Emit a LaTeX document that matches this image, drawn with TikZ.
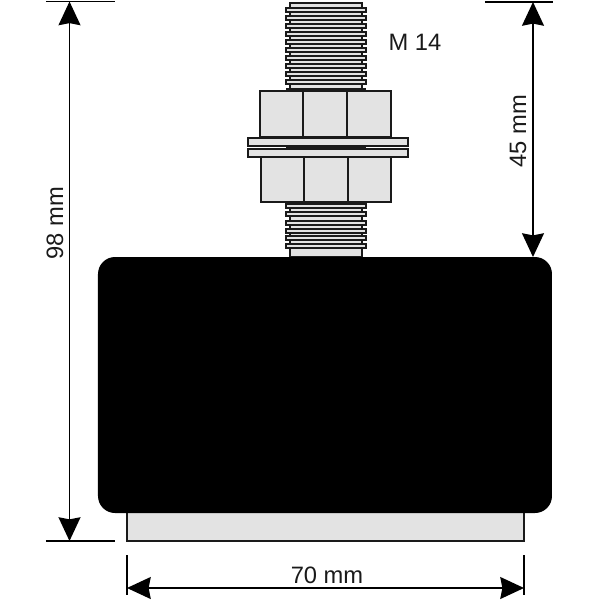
\documentclass[tikz,border=0pt]{standalone}
\usepackage{fontspec}
\setmainfont{Liberation Sans}
\usetikzlibrary{arrows.meta}
\definecolor{partgrey}{HTML}{E3E3E3}
\definecolor{ink}{HTML}{1A1A1A}
\tikzset{
  part/.style={draw=ink,fill=partgrey,line width=1.25pt},
  thin part/.style={draw=ink,fill=partgrey,line width=1.1pt},
  extline/.style={draw=black,line width=0.85pt},
  dimline/.style={draw=black,line width=0.85pt,{Stealth[length=13.5pt,width=12.5pt,inset=1.2pt]}-{Stealth[length=13.5pt,width=12.5pt,inset=1.2pt]}},
  dimtext/.style={font=\fontsize{13.5pt}{15pt}\selectfont,text=ink,inner sep=0pt}
}
\begin{document}
\begin{tikzpicture}[x=0.02cm,y=-0.02cm]
\useasboundingbox (0,0) rectangle (600,600);
% bolt core
\fill[part] (290,3) rectangle (362,91);
\fill[part] (290,202) rectangle (362,257);
% thread rows
\foreach \y in {10,18,26,34,42,50,58,66,74,82}
  \fill[thin part] (286,\y-2.3) rectangle (366,\y+2.3);
\fill[ink] (286,88) rectangle (366,91);
\foreach \y in {206,214,223,231,238,246}
  \fill[thin part] (286,\y-2.3) rectangle (366,\y+2.3);
% upper nut
\fill[part] (260,91) rectangle (391,137);
\draw[part] (303,91) -- (303,137) (347,91) -- (347,137);
% washers and spacer
\fill[ink] (286,146) rectangle (366,149);
\fill[part] (248,138) rectangle (408,146);
\fill[part] (248,149) rectangle (408,157);
% lower nut
\fill[part] (261,157) rectangle (391,202);
\draw[part] (304,157) -- (304,202) (348,157) -- (348,202);
% base plate
\fill[thin part] (127,505) rectangle (524,541);
% rubber body
\fill[black,rounded corners=0.34cm] (98,257) rectangle (552,513);
% extension lines
\coordinate (lt1) at (46,1.5); \coordinate (lt2) at (115,1.5);
\coordinate (lb1) at (46,541); \coordinate (lb2) at (115,541);
\coordinate (rt1) at (485,2); \coordinate (rt2) at (553,2);
\coordinate (bl1) at (127,555); \coordinate (bl2) at (127,595);
\coordinate (br1) at (524,555); \coordinate (br2) at (524,595);
\draw[extline] (lt1) -- (lt2);
\draw[extline] (lb1) -- (lb2);
\draw[extline] (rt1) -- (rt2);
\draw[extline] (bl1) -- (bl2);
\draw[extline] (br1) -- (br2);
% dimension lines
\coordinate (d98a) at (69.5,1.5); \coordinate (d98b) at (69.5,541);
\coordinate (d45a) at (533,2); \coordinate (d45b) at (533,257);
\coordinate (d70a) at (127,588); \coordinate (d70b) at (524,588);
\draw[dimline] (d98a) -- (d98b);
\draw[dimline] (d45a) -- (d45b);
\draw[dimline] (d70a) -- (d70b);
% labels
\node[dimtext,rotate=90] (t98) at (55,223) {98 mm};
\node[dimtext,rotate=90] (t45) at (518,131) {45 mm};
\node[dimtext] (t70) at (327,575) {70 mm};
\node[dimtext] (tm14) at (415,42) {M 14};
\end{tikzpicture}
\end{document}
